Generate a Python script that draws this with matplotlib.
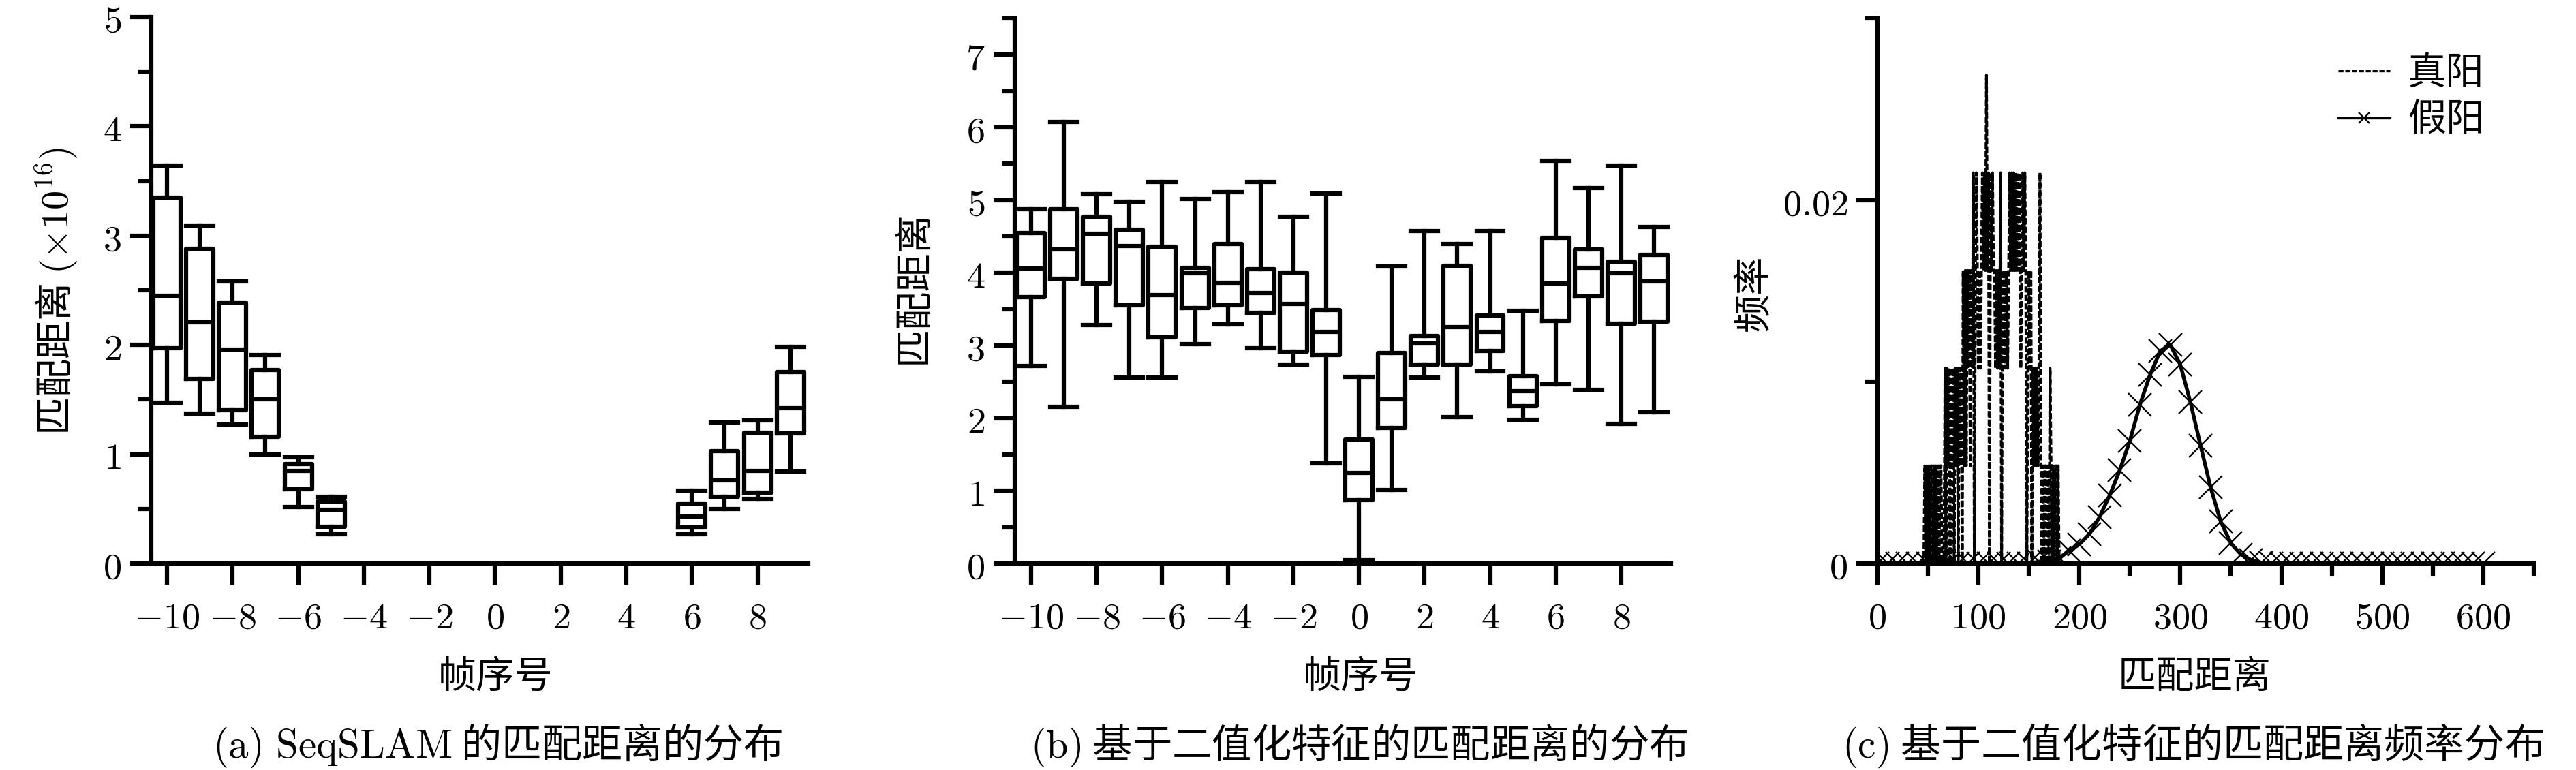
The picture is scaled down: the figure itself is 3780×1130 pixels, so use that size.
import numpy as np
import matplotlib.pyplot as plt
from matplotlib.ticker import MultipleLocator, FuncFormatter

plt.rcParams['font.family'] = ['Noto Sans CJK SC', 'DejaVu Sans']
plt.rcParams['mathtext.fontset'] = 'cm'
plt.rcParams['font.size'] = 12.5
plt.rcParams['axes.unicode_minus'] = True

# ---- (a) SeqSLAM matching distance per frame offset (x1e16) ----
a_frames = [-10, -9, -8, -7, -6, -5, 6, 7, 8, 9]
a_whislo = [1.47, 1.37, 1.27, 1.00, 0.52, 0.27, 0.27, 0.50, 0.59, 0.84]
a_q1 = [1.97, 1.69, 1.40, 1.16, 0.68, 0.34, 0.33, 0.61, 0.65, 1.19]
a_med = [2.45, 2.21, 1.96, 1.50, 0.85, 0.49, 0.43, 0.76, 0.85, 1.42]
a_q3 = [3.35, 2.88, 2.39, 1.77, 0.91, 0.57, 0.55, 1.03, 1.20, 1.75]
a_whishi = [3.64, 3.09, 2.58, 1.91, 0.97, 0.61, 0.67, 1.29, 1.31, 1.98]

# ---- (b) binary feature matching distance per frame offset ----
b_frames = list(range(-10, 10))
b_whislo = [2.72, 2.16, 3.28, 2.56, 2.56, 3.02, 3.29, 2.96, 2.74, 1.38,
            0.05, 1.01, 2.56, 2.02, 2.64, 1.98, 2.47, 2.39, 1.92, 2.08]
b_q1 = [3.67, 3.92, 3.85, 3.55, 3.11, 3.52, 3.55, 3.45, 2.92, 2.87,
        0.87, 1.87, 2.74, 2.74, 2.93, 2.17, 3.34, 3.68, 3.30, 3.33]
b_med = [4.06, 4.32, 4.54, 4.37, 3.69, 3.99, 3.86, 3.72, 3.57, 3.19,
         1.25, 2.26, 3.03, 3.25, 3.19, 2.37, 3.85, 4.07, 3.99, 3.88]
b_q3 = [4.55, 4.88, 4.77, 4.59, 4.36, 4.07, 4.40, 4.05, 4.00, 3.49,
        1.71, 2.90, 3.13, 4.10, 3.41, 2.58, 4.48, 4.32, 4.15, 4.25]
b_whishi = [4.88, 6.08, 5.08, 4.98, 5.25, 5.02, 5.11, 5.25, 4.77, 5.09,
            2.57, 4.09, 4.58, 4.40, 4.58, 3.48, 5.54, 5.17, 5.48, 4.63]

# ---- (c) frequency of matching distance ----
# true positives: counts per integer distance 44..184
tp_dist = list(range(44, 185))
tp_counts = [0, 0, 0, 1, 0, 1,
             0, 1, 0, 1, 1, 0, 1, 0, 1, 0,
             1, 0, 1, 1, 0, 0, 0, 2, 0, 2,
             1, 2, 0, 2, 1, 2, 0, 2, 1, 2,
             0, 2, 1, 2, 0, 3, 1, 3, 1, 3,
             2, 3, 1, 3, 2, 4, 0, 3, 4, 3,
             2, 3, 2, 3, 4, 3, 4, 3, 5, 3,
             4, 0, 4, 3, 4, 3, 3, 2, 3, 2,
             3, 2, 4, 0, 3, 2, 3, 2, 3, 2,
             3, 4, 3, 4, 3, 4, 3, 4, 3, 4,
             3, 4, 2, 3, 4, 3, 4, 3, 0, 2,
             3, 2, 3, 0, 2, 1, 2, 1, 2, 1,
             2, 4, 1, 0, 1, 0, 1, 1, 0, 1,
             0, 2, 1, 0, 1, 0, 1, 1, 0, 1,
             0, 0, 0, 0, 0]
TP_TOTAL = 186
tp_freq = np.array(tp_counts) / TP_TOTAL

# false positives: frequency every 10 units, 0..600
fp_dist = list(range(0, 610, 10))
fp_freq = [0, 0, 0, 0, 0, 0, 0, 0, 0, 0,
           0, 0, 0, 0, 0, 0, 0.0001, 0.0001, 0.0003, 0.0007,
           0.00106, 0.00163, 0.00256, 0.00375, 0.00513, 0.00675, 0.00875, 0.01038, 0.01169, 0.01205,
           0.01094, 0.00888, 0.0065, 0.00419, 0.00231, 0.00113, 0.0005, 0.0002, 0.00005, 0,
           0, 0, 0, 0, 0, 0, 0, 0, 0, 0,
           0, 0, 0, 0, 0, 0, 0, 0, 0, 0,
           0]

LW = 1.5
fmt = FuncFormatter(lambda v, p: f'${v:g}$')


def style_axis(ax):
    for s in ['top', 'right']:
        ax.spines[s].set_visible(False)
    for s in ['left', 'bottom']:
        ax.spines[s].set_linewidth(LW)
    ax.tick_params(which='major', direction='out', length=7.5, width=LW, labelsize=13)
    ax.tick_params(which='minor', direction='out', length=4.5, width=LW)
    ax.tick_params(axis='x', pad=5)
    ax.tick_params(axis='y', pad=3)
    ax.xaxis.set_major_formatter(fmt)
    ax.yaxis.set_major_formatter(fmt)


def draw_boxes(ax, frames, lo, q1, med, q3, hi):
    stats = []
    for i in range(len(frames)):
        stats.append(dict(med=med[i], q1=q1[i], q3=q3[i],
                          whislo=lo[i], whishi=hi[i], fliers=[]))
    line = dict(color='black', linewidth=LW)
    ax.bxp(stats, positions=frames, widths=0.83, capwidths=0.83,
           showfliers=False, boxprops=line, whiskerprops=line,
           capprops=line, medianprops=line, manage_ticks=False)


fig = plt.figure(figsize=(12.6, 3.7667), dpi=300)

# panel a
ax1 = fig.add_axes([0.0587, 0.2681, 0.2551, 0.7098])
draw_boxes(ax1, a_frames, a_whislo, a_q1, a_med, a_q3, a_whishi)
ax1.set_xlim(-10.48, 9.55)
ax1.set_ylim(0, 5)
ax1.xaxis.set_major_locator(MultipleLocator(2))
ax1.yaxis.set_major_locator(MultipleLocator(1))
ax1.yaxis.set_minor_locator(MultipleLocator(0.5))
style_axis(ax1)

# panel b
ax2 = fig.add_axes([0.3939, 0.2681, 0.2548, 0.7079])
draw_boxes(ax2, b_frames, b_whislo, b_q1, b_med, b_q3, b_whishi)
ax2.set_xlim(-10.5, 9.52)
ax2.set_ylim(0, 7.5)
ax2.xaxis.set_major_locator(MultipleLocator(2))
ax2.yaxis.set_major_locator(MultipleLocator(1))
ax2.yaxis.set_minor_locator(MultipleLocator(0.5))
style_axis(ax2)

# panel c
ax3 = fig.add_axes([0.7288, 0.2681, 0.2548, 0.7079])
ax3.plot(tp_dist, tp_freq, color='black', linewidth=1.0,
         linestyle=(0, (2.2, 0.8)), label='真阳')
ax3.plot(fp_dist, fp_freq, color='black', linewidth=1.3, marker='x',
         markersize=8, markeredgewidth=0.55, label='假阳', zorder=3)
ax3.set_xlim(0, 650)
ax3.set_ylim(0, 0.03)
ax3.xaxis.set_major_locator(MultipleLocator(100))
ax3.xaxis.set_minor_locator(MultipleLocator(50))
ax3.yaxis.set_major_locator(MultipleLocator(0.02))
ax3.yaxis.set_minor_locator(MultipleLocator(0.01))
style_axis(ax3)
leg = ax3.legend(loc='upper right', bbox_to_anchor=(0.9643, 0.93),
                 bbox_transform=fig.transFigure, frameon=False, fontsize=13.5,
                 handlelength=1.35, handletextpad=0.45, labelspacing=0.2,
                 borderpad=0, borderaxespad=0, markerscale=0.5)
for h in leg.legend_handles:
    h.set_linewidth(0.8)

# axis labels
fig.text(0.022, 0.622, '匹配距离 $(\\times 10^{16})$', rotation=90,
         ha='center', va='center', fontsize=13.5)
fig.text(0.3548, 0.627, '匹配距离', rotation=90, ha='center', va='center', fontsize=13.5)
fig.text(0.681, 0.62, '频率', rotation=90, ha='center', va='center', fontsize=13.5)
fig.text(0.1923, 0.1204, '帧序号', ha='center', va='center', fontsize=13.5)
fig.text(0.528, 0.1204, '帧序号', ha='center', va='center', fontsize=13.5)
fig.text(0.8519, 0.1204, '匹配距离', ha='center', va='center', fontsize=13.5)

# captions
fig.text(0.1931, 0.031, '$\\mathrm{(a)\\ SeqSLAM}$ 的匹配距离的分布',
         ha='center', va='center', fontsize=14.2)
fig.text(0.5275, 0.031, '$\\mathrm{(b)}$ 基于二值化特征的匹配距离的分布',
         ha='center', va='center', fontsize=14)
fig.text(0.8513, 0.031, '$\\mathrm{(c)}$ 基于二值化特征的匹配距离频率分布',
         ha='center', va='center', fontsize=14.2)

fig.savefig('out.png', dpi=300, facecolor='white')
